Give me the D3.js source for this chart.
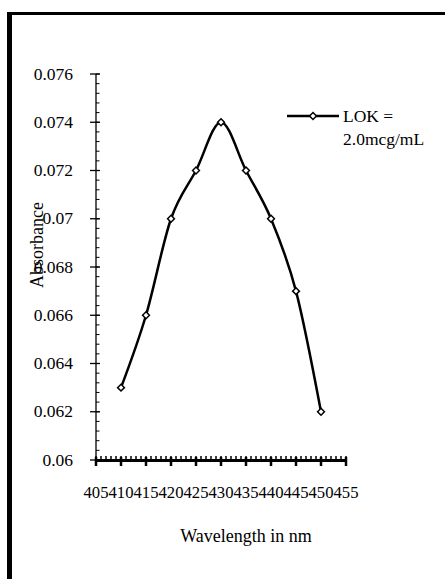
<!DOCTYPE html>
<html>
<head>
<meta charset="utf-8">
<script src="https://cdn.jsdelivr.net/npm/d3@7"></script>
<style>
  body { margin: 0; background: #fff; }
</style>
</head>
<body>
<div id="chart"></div>
<script>
var wavelengths = [410, 415, 420, 425, 430, 435, 440, 445, 450];
var absorbance = [0.063, 0.066, 0.070, 0.072, 0.074, 0.072, 0.070, 0.067, 0.062];
var xTicks = [405, 410, 415, 420, 425, 430, 435, 440, 445, 450, 455];
var yTicks = [0.06, 0.062, 0.064, 0.066, 0.068, 0.07, 0.072, 0.074, 0.076];
var seriesName = ["LOK =", "2.0mcg/mL"];

var width = 445, height = 579;
var margin = {top: 74, left: 96, bottom: 119, right: 99};
var serif = "'Liberation Serif', 'Times New Roman', serif";

var svg = d3.select("#chart")
    .append("svg")
    .attr("width", width)
    .attr("height", height)
    .attr("font-family", serif);

// outer frame (only the left and top edges show)
svg.append("line")
    .attr("x1", 9.5).attr("x2", 9.5)
    .attr("y1", 12).attr("y2", height)
    .attr("stroke", "black").attr("stroke-width", 5);
svg.append("line")
    .attr("x1", 7).attr("x2", width)
    .attr("y1", 13.5).attr("y2", 13.5)
    .attr("stroke", "black").attr("stroke-width", 3);

var x = d3.scaleLinear()
    .domain([405, 455])
    .range([margin.left, width - margin.right]);

var y = d3.scaleLinear()
    .domain([0.06, 0.076])
    .range([height - margin.bottom, margin.top]);

var x0 = x(405), y0 = y(0.06);

// y axis
svg.append("line")
    .attr("x1", x0).attr("x2", x0)
    .attr("y1", y(0.076)).attr("y2", y0)
    .attr("stroke", "black").attr("stroke-width", 1.3);

d3.range(0.06, 0.0761, 0.0004).forEach(function (v) {
    svg.append("line")
        .attr("x1", x0).attr("x2", x0 + 3.5)
        .attr("y1", y(v)).attr("y2", y(v))
        .attr("stroke", "black").attr("stroke-width", 1);
});

yTicks.forEach(function (v) {
    svg.append("line")
        .attr("x1", x0 - 6).attr("x2", x0 + 4)
        .attr("y1", y(v)).attr("y2", y(v))
        .attr("stroke", "black").attr("stroke-width", 1.3);
    svg.append("text")
        .text(+v.toFixed(3))
        .attr("x", 73)
        .attr("y", y(v) + 5.5)
        .attr("text-anchor", "end")
        .attr("font-size", 17.5);
});

// x axis
d3.range(405, 456, 1).forEach(function (v) {
    svg.append("line")
        .attr("x1", x(v)).attr("x2", x(v))
        .attr("y1", y0 - 4).attr("y2", y0)
        .attr("stroke", "black").attr("stroke-width", 1.5);
});

svg.append("line")
    .attr("x1", x0).attr("x2", x(455))
    .attr("y1", y0 + 0.5).attr("y2", y0 + 0.5)
    .attr("stroke", "black").attr("stroke-width", 3);

xTicks.forEach(function (v) {
    svg.append("line")
        .attr("x1", x(v)).attr("x2", x(v))
        .attr("y1", y0 - 3).attr("y2", y0 + 6)
        .attr("stroke", "black").attr("stroke-width", 2.5);
    svg.append("text")
        .text(v)
        .attr("x", x(v))
        .attr("y", 498)
        .attr("text-anchor", "middle")
        .attr("font-size", 17.5)
        .attr("textLength", 25)
        .attr("lengthAdjust", "spacingAndGlyphs");
});

// axis titles
svg.append("text")
    .text("Wavelength in nm")
    .attr("x", 246)
    .attr("y", 542)
    .attr("text-anchor", "middle")
    .attr("font-size", 18);

svg.append("text")
    .text("Absorbance")
    .attr("transform", "translate(43,245) rotate(-90)")
    .attr("text-anchor", "middle")
    .attr("font-size", 18);

// the curve
var line = d3.line()
    .x(function (d, i) { return x(wavelengths[i]); })
    .y(function (d) { return y(d); })
    .curve(d3.curveCardinal.tension(0));

svg.append("path")
    .attr("d", line(absorbance))
    .attr("fill", "none")
    .attr("stroke", "black")
    .attr("stroke-width", 2.5);

var diamond = d3.symbol().type(d3.symbolDiamond2).size(30);

absorbance.forEach(function (v, i) {
    svg.append("path")
        .attr("d", diamond())
        .attr("transform", "translate(" + x(wavelengths[i]) + "," + y(v) + ")")
        .attr("fill", "white")
        .attr("stroke", "black")
        .attr("stroke-width", 1.5);
});

// legend
svg.append("line")
    .attr("x1", 287).attr("x2", 339)
    .attr("y1", 116).attr("y2", 116)
    .attr("stroke", "black").attr("stroke-width", 2.5);
svg.append("path")
    .attr("d", diamond())
    .attr("transform", "translate(313,116)")
    .attr("fill", "white")
    .attr("stroke", "black")
    .attr("stroke-width", 1.5);
seriesName.forEach(function (s, i) {
    svg.append("text")
        .text(s)
        .attr("x", 343)
        .attr("y", 122 + i * 23)
        .attr("font-size", 17.5);
});
</script>
</body>
</html>
